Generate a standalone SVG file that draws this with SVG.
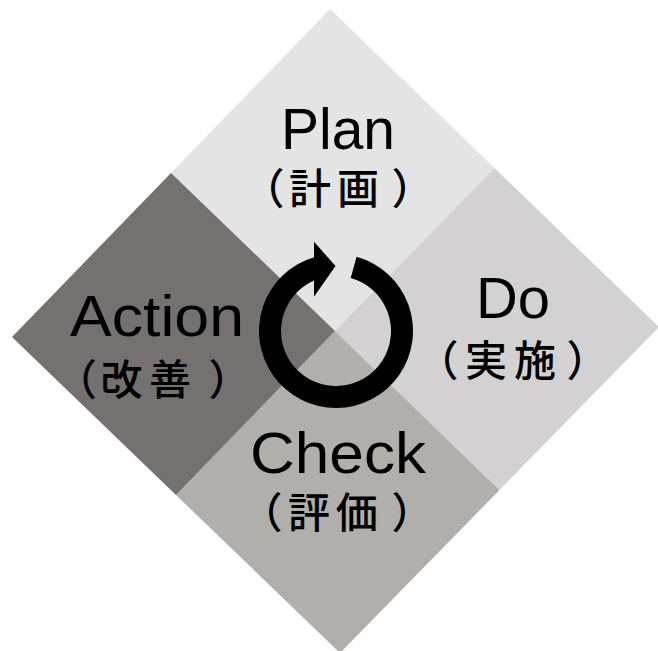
<svg xmlns="http://www.w3.org/2000/svg" width="658" height="651" viewBox="0 0 658 651">
<style>
.lat{font-family:"Liberation Sans","DejaVu Sans",sans-serif;font-size:57px;fill:#000;text-anchor:start}
.jp{font-family:"Noto Sans CJK JP","Noto Sans CJK SC",sans-serif;font-size:42px;font-weight:500;fill:#000;text-anchor:middle}
</style>
<rect width="658" height="651" fill="#fff"/>
<g id="plan">
<polygon points="330,9 494.5,168 335,331 171,173" fill="#e4e4e4"/>
<text class="lat" x="281" y="149" textLength="114" lengthAdjust="spacingAndGlyphs">Plan</text>
<text class="jp" x="263.6 310 358 412.4" y="204">（計画）</text>
</g>
<g id="do">
<polygon points="494.5,168 659,327 499.5,490 335,331" fill="#d3d1d2"/>
<text class="lat" x="476" y="318" textLength="74" lengthAdjust="spacingAndGlyphs">Do</text>
<text class="jp" x="437.6 486 535 587.4" y="375.5">（実施）</text>
</g>
<g id="check">
<polygon points="335,331 499.5,490 340,653 176,495" fill="#b1aeac"/>
<text class="lat" x="250" y="473" textLength="176" lengthAdjust="spacingAndGlyphs">Check</text>
<text class="jp" x="261.6 309 356.7 412.4" y="527.5">（評価）</text>
</g>
<g id="action">
<polygon points="171,173 335,331 176,495 12,337" fill="#747170"/>
<text class="lat" x="70" y="336" textLength="174" lengthAdjust="spacingAndGlyphs">Action</text>
<text class="jp" x="76 121.5 170 229.4" y="395">（改善）</text>
</g>
<g id="cycle-arrow">
<path d="M356.6,256.8 A77,77 0 1 1 314,257.2 L314,280.6 A55,55 0 1 0 350.7,278 Z" fill="#000"/>
<polygon points="314,241.7 335.5,266 314,296.7" fill="#000"/>
</g>
</svg>
